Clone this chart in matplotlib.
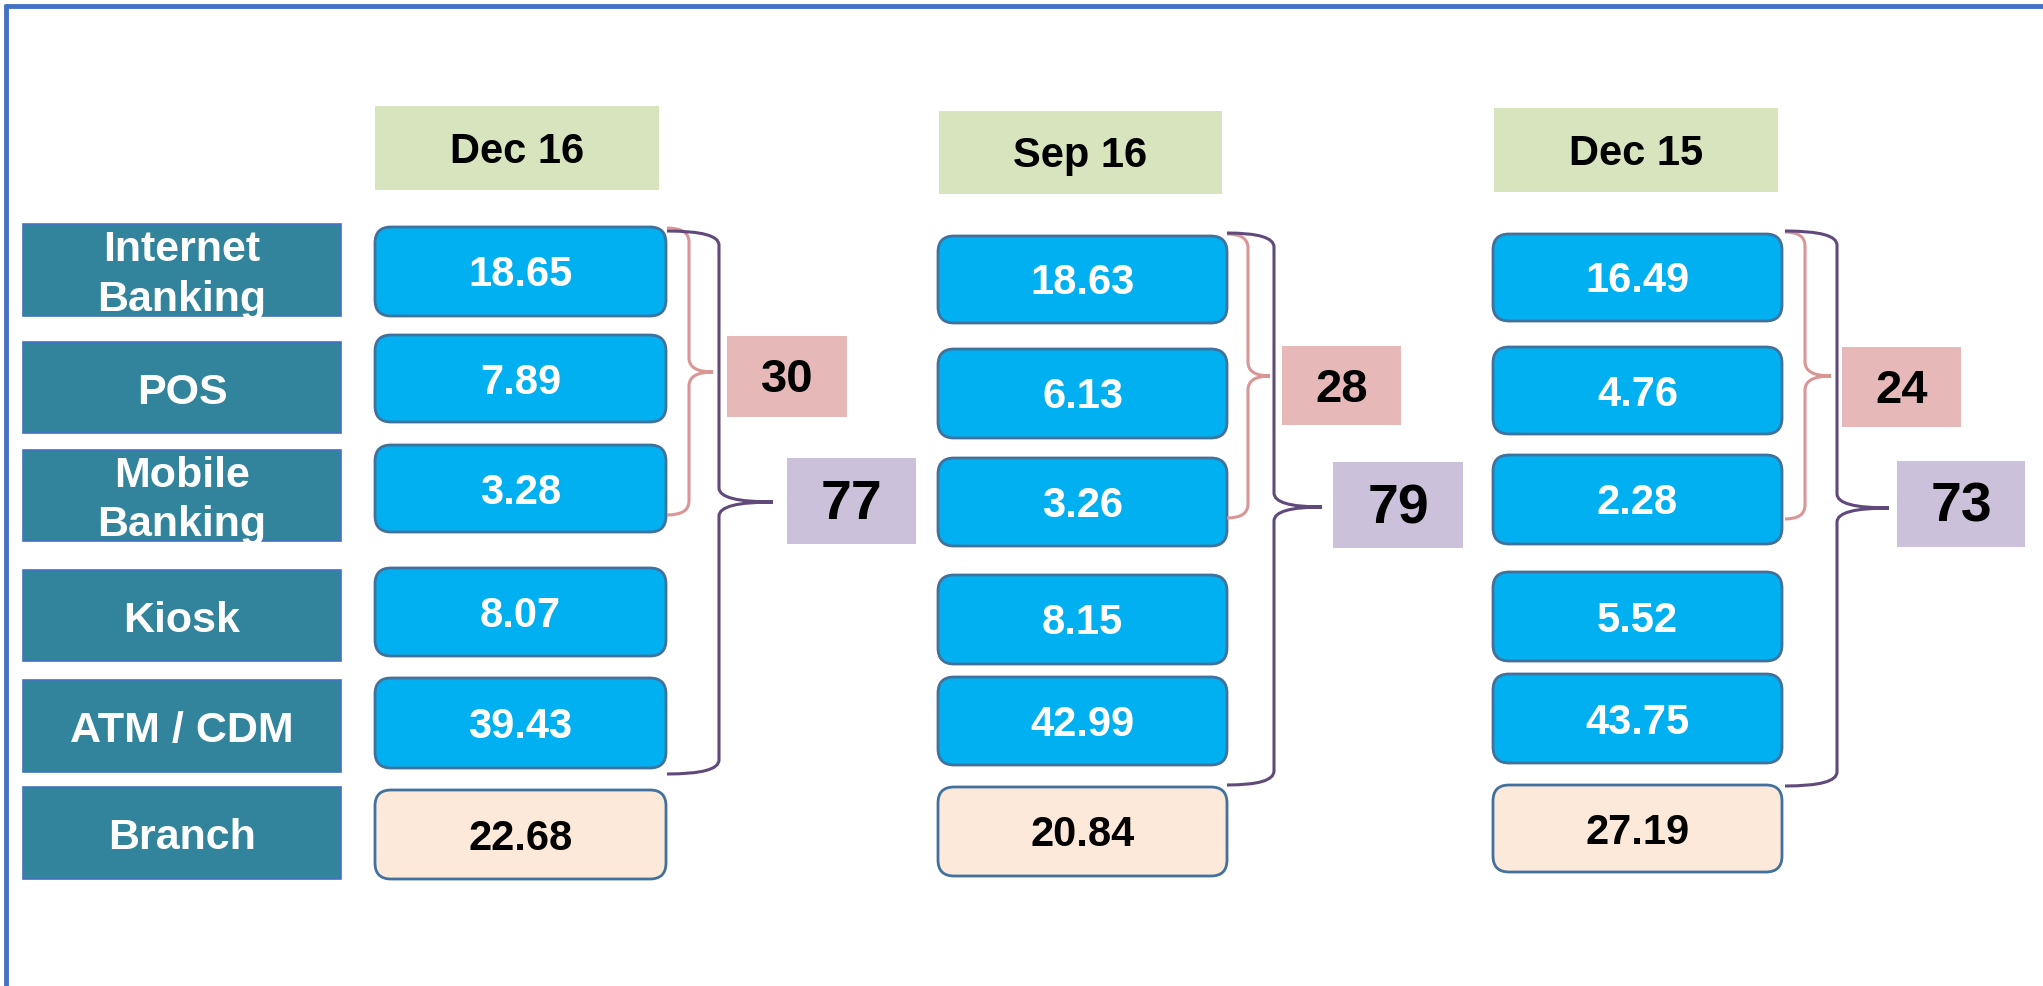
import matplotlib
matplotlib.use("Agg")
import matplotlib.pyplot as plt
from matplotlib.patches import FancyBboxPatch, Rectangle, PathPatch
from matplotlib.path import Path

# ---------------- data ----------------
channels = ["Internet\nBanking", "POS", "Mobile\nBanking", "Kiosk", "ATM / CDM", "Branch"]
periods = ["Dec 16", "Sep 16", "Dec 15"]
dec16 = [18.65, 7.89, 3.28, 8.07, 39.43, 22.68]
sep16 = [18.63, 6.13, 3.26, 8.15, 42.99, 20.84]
dec15 = [16.49, 4.76, 2.28, 5.52, 43.75, 27.19]
digital_subtotal = [30, 28, 24]   # Internet + POS + Mobile
alt_total = [77, 79, 73]          # all non-branch channels

# ---------------- layout (pixels) ----------------
W, H = 2043, 987
cat_x = (23, 341)
cat_rows = [(225, 317), (343, 434), (451, 542), (571, 662), (681, 773), (788, 880)]
col_x = [(375, 666), (938, 1227), (1493, 1782)]
col_rows = [
    [(228, 317), (336, 423), (446, 533), (569, 657), (679, 769), (791, 880)],
    [(237, 324), (350, 439), (459, 547), (576, 665), (678, 766), (788, 877)],
    [(235, 322), (348, 435), (456, 545), (573, 662), (675, 764), (786, 873)],
]
head_box = [((375, 659), (107, 191)), ((939, 1222), (112, 195)), ((1494, 1778), (109, 193))]
# brace geometry: x0, stem, tip, top, bottom, tip_y
pink_brace = [(667, 689, 713, 229, 516, 373), (1227, 1248, 1270, 235, 519, 377), (1785, 1805, 1831, 233, 520, 377)]
purple_brace = [(667, 719, 773, 232, 775, 503), (1227, 1274, 1322, 234, 786, 508), (1785, 1837, 1889, 232, 787, 509)]
pink_box = [((727, 847), (337, 418)), ((1282, 1401), (347, 426)), ((1842, 1961), (348, 428))]
purple_box = [((787, 916), (459, 545)), ((1333, 1463), (463, 549)), ((1897, 2025), (462, 548))]

FONT = "Liberation Sans"
TEAL = "#31849B"
CYAN = "#00B0F0"
PEACH = "#FDE9D9"
EDGE = "#41719C"
GREEN = "#D7E4BD"
PINK_FILL = "#E6B9B8"
PURPLE_FILL = "#CCC1DA"
PINK_LINE = "#D99694"
PURPLE_LINE = "#604A7B"
BORDER = "#4472C4"

fig = plt.figure(figsize=(W / 100, H / 100), dpi=100)
ax = fig.add_axes([0, 0, 1, 1])
ax.set_xlim(0, W)
ax.set_ylim(H, 0)
ax.axis("off")

# frame lines (top and left)
ax.plot([5, W], [7, 7], color=BORDER, lw=3.5, solid_capstyle="butt")
ax.plot([6, 6], [5, H], color=BORDER, lw=3.5, solid_capstyle="butt")

# channel labels
for name, (y0, y1) in zip(channels, cat_rows):
    ax.add_patch(Rectangle((cat_x[0], y0), cat_x[1] - cat_x[0], y1 - y0,
                           facecolor=TEAL, edgecolor=BORDER, lw=1.2))
    ax.text((cat_x[0] + cat_x[1]) / 2, (y0 + y1) / 2 + 4, name, color="white",
            fontsize=31, fontweight="bold", family=FONT, ha="center", va="center",
            linespacing=1.3)

# period columns
series = [dec16, sep16, dec15]
for ci, (label, vals) in enumerate(zip(periods, series)):
    (hx0, hx1), (hy0, hy1) = head_box[ci]
    ax.add_patch(Rectangle((hx0, hy0), hx1 - hx0, hy1 - hy0, facecolor=GREEN, edgecolor="none"))
    ax.text((hx0 + hx1) / 2, (hy0 + hy1) / 2 + 3, label, color="black", fontsize=30,
            fontweight="bold", family=FONT, ha="center", va="center")
    x0, x1 = col_x[ci]
    for ri, (v, (y0, y1)) in enumerate(zip(vals, col_rows[ci])):
        is_branch = ri == len(vals) - 1
        ax.add_patch(FancyBboxPatch((x0, y0), x1 - x0, y1 - y0,
                                    boxstyle="round,pad=0,rounding_size=16",
                                    facecolor=PEACH if is_branch else CYAN,
                                    edgecolor=EDGE, lw=2))
        ax.text((x0 + x1) / 2, (y0 + y1) / 2 + 3, f"{v:.2f}",
                color="black" if is_branch else "white", fontsize=30,
                fontweight="bold", family=FONT, ha="center", va="center")


def brace(bx0, xs, xt, yt, yb, ytip, color):
    r = 14
    verts = [(bx0, yt), (xs, yt), (xs, yt + r),
             (xs, ytip - r), (xs, ytip), (xt, ytip),
             (xs, ytip), (xs, ytip + r),
             (xs, yb - r), (xs, yb), (bx0, yb)]
    codes = [Path.MOVETO, Path.CURVE3, Path.CURVE3,
             Path.LINETO, Path.CURVE3, Path.CURVE3,
             Path.CURVE3, Path.CURVE3,
             Path.LINETO, Path.CURVE3, Path.CURVE3]
    ax.add_patch(PathPatch(Path(verts, codes), facecolor="none", edgecolor=color, lw=2.2))


for ci in range(3):
    brace(*pink_brace[ci], PINK_LINE)
    brace(*purple_brace[ci], PURPLE_LINE)
    (px0, px1), (py0, py1) = pink_box[ci]
    ax.add_patch(Rectangle((px0, py0), px1 - px0, py1 - py0, facecolor=PINK_FILL, edgecolor="none"))
    ax.text((px0 + px1) / 2, (py0 + py1) / 2 + 3, str(digital_subtotal[ci]), fontsize=34,
            fontweight="bold", family=FONT, ha="center", va="center", color="black")
    (qx0, qx1), (qy0, qy1) = purple_box[ci]
    ax.add_patch(Rectangle((qx0, qy0), qx1 - qx0, qy1 - qy0, facecolor=PURPLE_FILL, edgecolor="none"))
    ax.text((qx0 + qx1) / 2, (qy0 + qy1) / 2 + 3, str(alt_total[ci]), fontsize=40,
            fontweight="bold", family=FONT, ha="center", va="center", color="black")

fig.savefig("out.png", dpi=100)
